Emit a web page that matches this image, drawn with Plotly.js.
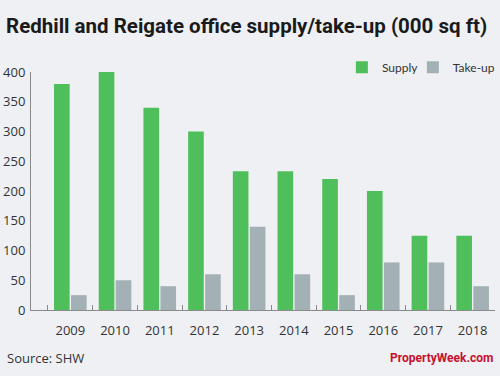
<!DOCTYPE html>
<html>
<head>
<meta charset="utf-8">
<script src="https://cdn.plot.ly/plotly-3.0.1.min.js"></script>
<style>html,body{margin:0;padding:0;background:#eef0f3;}#chart{width:500px;height:376px;}</style>
</head>
<body>
<div id="chart"></div>
<script>
var years = ["2009","2010","2011","2012","2013","2014","2015","2016","2017","2018"];
var supply = [380, 400, 340, 300, 233, 233, 220, 200, 125, 125];
var takeUp = [25, 50, 40, 60, 140, 60, 25, 80, 80, 40];
var yTicks = [0, 50, 100, 150, 200, 250, 300, 350, 400];

var baseFont = {family: "Open Sans, Roboto, sans-serif", size: 13, color: "#333333"};
var legFont = {family: "Lato, Open Sans, sans-serif", size: 12, color: "#333333"};

var data = [
  {type: "bar", name: "Supply", x: years, y: supply, marker: {color: "#4fbf5c"}, legend: "legend"},
  {type: "bar", name: "Take-up", x: years, y: takeUp, marker: {color: "#a3b1b6"}, legend: "legend2"}
];

var layout = {
  width: 500, height: 376,
  paper_bgcolor: "#eef0f3", plot_bgcolor: "#eef0f3",
  font: baseFont,
  margin: {l: 31, r: 5, t: 72, b: 66, autoexpand: false},
  barmode: "group", bargap: 0.24, bargroupgap: 0.08,
  title: {text: "<b>Redhill and Reigate office supply/take-up (000 sq ft)</b>",
          font: {family: "Roboto, sans-serif", size: 20.5, color: "#1a1a1a"},
          x: 0.012, xanchor: "left", y: 0.93, yanchor: "middle"},
  showlegend: true,
  legend: {orientation: "h", x: 0.67, xanchor: "left", y: 1.02, yanchor: "middle",
           font: legFont, bgcolor: "rgba(0,0,0,0)"},
  legend2: {orientation: "h", x: 0.823, xanchor: "left", y: 1.02, yanchor: "middle",
           font: legFont, bgcolor: "rgba(0,0,0,0)"},
  xaxis: {type: "category", range: [-0.88, 9.5], showgrid: false, zeroline: false,
          showline: true, linecolor: "#8a8a8a", linewidth: 1,
          ticks: "inside", tickson: "boundaries", ticklen: 5, tickcolor: "#8a8a8a",
          tickfont: baseFont, ticklabelstandoff: 8},
  yaxis: {range: [0, 400], tickvals: yTicks, showgrid: false, zeroline: false,
          showline: true, linecolor: "#8a8a8a", linewidth: 1, ticks: "",
          tickfont: baseFont, ticklabelstandoff: 2},
  annotations: [
    {text: "Source: SHW", xref: "paper", yref: "paper", x: -0.056, y: -0.2, xanchor: "left", yanchor: "middle",
     showarrow: false, font: {family: "Open Sans, sans-serif", size: 13, color: "#333333"}},
    {text: "<b>PropertyWeek.com</b>", xref: "paper", yref: "paper", x: 1.0, y: -0.2, xanchor: "right", yanchor: "middle",
     showarrow: false, font: {family: "Roboto, sans-serif", size: 12, color: "#c8102e"}}
  ]
};

Plotly.newPlot("chart", data, layout, {displayModeBar: false, staticPlot: true});
</script>
</body>
</html>
